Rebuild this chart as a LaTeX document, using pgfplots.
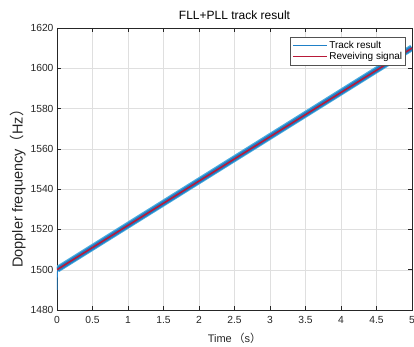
\documentclass[border=0pt]{standalone}
\usepackage{pgfplots}
\pgfplotsset{compat=1.18}
\usepackage{fontspec}
\setmainfont{Liberation Sans}
\newfontfamily\cjk{Noto Sans CJK SC}
\definecolor{mblue}{rgb}{0.12,0.50,0.78}
\definecolor{mblueL}{rgb}{0.30,0.68,0.88}
\definecolor{mred}{rgb}{0.72,0.10,0.22}
\definecolor{tk}{rgb}{0.15,0.15,0.15}
\begin{document}
\begin{tikzpicture}[x=1pt,y=1pt]
\begin{axis}[
  name=ax,
  scale only axis,
  width=355pt, height=282pt,
  xmin=0, xmax=5, ymin=1480, ymax=1620,
  xtick={0,0.5,...,5}, ytick={1480,1500,...,1620},
  xticklabels={0,0.5,1,1.5,2,2.5,3,3.5,4,4.5,5},
  tick align=inside,
  major tick length=4pt,
  grid=major,
  grid style={gray!25, line width=0.4pt},
  axis line style={tk, line width=0.6pt},
  tick style={tk, line width=0.5pt},
  ticklabel style={font=\fontsize{10.3}{11}\selectfont, text=tk},
  xticklabel style={yshift=-2.5pt},
  /pgf/number format/assume math mode=true,
  yticklabel style={/pgf/number format/1000 sep={}},
  title={FLL+PLL track result},
  title style={font=\fontsize{12}{13}\selectfont, text=black,
    at={(axis description cs:0.5,1)}, anchor=base, yshift=2pt},
  xlabel={Time\,{\cjk（}s{\cjk）}},
  ylabel={Doppler frequency{\cjk（}Hz{\cjk）}},
  xlabel style={font=\fontsize{11}{12}\selectfont, text=tk,
    at={(axis description cs:0.5,-0.099)}, anchor=center},
  ylabel style={font=\fontsize{14.5}{15}\selectfont, text=tk,
    at={(axis description cs:-0.11,0.443)}, anchor=center},
  legend style={at={(0.983,0.968)}, anchor=north east, draw=tk!80, line width=0.6pt,
    font=\fontsize{10}{11}\selectfont, inner sep=1.5pt, row sep=-1pt,
    cells={anchor=west}},
  legend image code/.code={\draw[#1] (0pt,0pt) -- (34pt,0pt);},
  clip=true,
]
\addlegendimage{draw=mblue, line width=1.1pt}
\addlegendentry{Track result}
\addlegendimage{draw=mred, line width=1.1pt}
\addlegendentry{Reveiving signal}
% transient at start of tracking
\addplot[mblue, line width=1pt, forget plot] coordinates {(0,1490) (0.004,1497) (0.008,1499.8) (0.02,1500.4)};
% tracked Doppler (noisy band drawn as thick lines)
\addplot[mblueL, line width=6.5pt, forget plot] coordinates {(0.005,1500.2) (5,1610.2)};
\addplot[mblue, line width=4.5pt, forget plot] coordinates {(0.005,1500.1) (5,1610.1)};
% received signal
\addplot[mred, line width=1.6pt, forget plot] coordinates {(0,1500) (5,1610)};
\end{axis}
\pgfresetboundingbox
\useasboundingbox ([shift={(-57pt,-37pt)}]ax.south west) rectangle ([shift={(357pt,310pt)}]ax.south west);
\end{tikzpicture}
\end{document}
